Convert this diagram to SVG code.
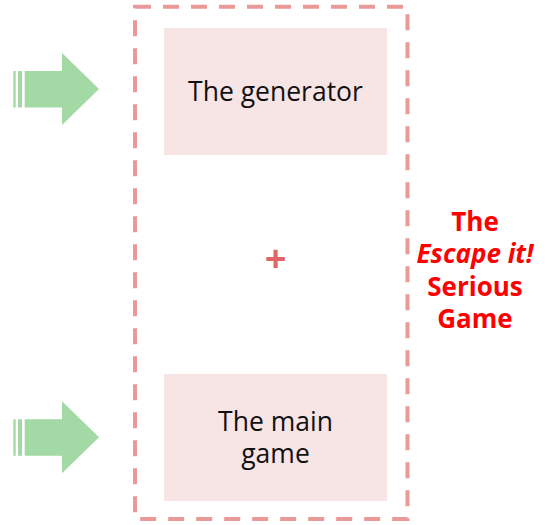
<svg xmlns="http://www.w3.org/2000/svg" width="547" height="525" viewBox="0 0 547 525">
  <style>
    .box { fill: #f7e5e6; }
    .lbl { font-family: "Open Sans", "Noto Sans", sans-serif; font-size: 26.5px; fill: #111; text-anchor: middle; }
    .title { font-family: "Open Sans", "Noto Sans", sans-serif; font-size: 26px; font-weight: bold; fill: #ff0000; text-anchor: middle; }
    .arrow { fill: #a3d9a5; }
  </style>
  <defs>
    <!-- striped block arrow, tip at (99,0) -->
    <g id="striped-arrow">
      <rect class="arrow" x="13.3" y="-18" width="2.4" height="36.5"/>
      <rect class="arrow" x="18" y="-18" width="4" height="36.5"/>
      <polygon class="arrow" points="24.7,-18 62,-18 62,-36 99,0 62,36 62,18.5 24.7,18.5"/>
    </g>
  </defs>
  <rect width="547" height="525" fill="#ffffff"/>

  <g id="frame">
    <rect x="135" y="6.8" width="272.5" height="512.2" fill="none" stroke="#ea9999" stroke-width="4" stroke-dasharray="16 12"/>
  </g>

  <g id="generator">
    <rect class="box" x="164" y="28" width="223" height="127"/>
    <text class="lbl" x="275.5" y="101">The generator</text>
  </g>

  <g id="plus">
    <text x="275.5" y="272" font-family="Open Sans, Noto Sans, sans-serif" font-size="38" font-weight="bold" fill="#e06666" text-anchor="middle">+</text>
  </g>

  <g id="main-game">
    <rect class="box" x="164" y="374" width="223" height="127"/>
    <text class="lbl" x="275.5" y="431">The main</text>
    <text class="lbl" x="275.5" y="463">game</text>
  </g>

  <g id="title">
    <text class="title" x="475" y="231">The</text>
    <text class="title" x="475" y="263" font-style="italic">Escape it!</text>
    <text class="title" x="475" y="296">Serious</text>
    <text class="title" x="475" y="328">Game</text>
  </g>

  <g id="connectors">
    <use href="#striped-arrow" transform="translate(0,89)"/>
    <use href="#striped-arrow" transform="translate(0,437.3)"/>
  </g>
</svg>
